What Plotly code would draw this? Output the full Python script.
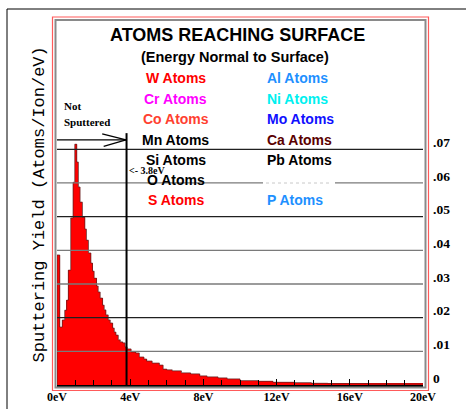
import numpy as np
import plotly.graph_objects as go

# ---------------- data ----------------
BIN_EDGES_EV = [0.0, 0.15, 0.29, 0.42, 0.53, 0.62, 0.75, 0.88, 0.97, 1.08,
                1.17, 1.26, 1.39, 1.52, 1.61, 1.72, 1.85, 1.94, 2.03, 2.16,
                2.25, 2.36, 2.49, 2.58, 2.67, 2.80, 2.91, 3.04, 3.13, 3.22,
                3.35, 3.46, 3.59, 3.72, 3.83, 4.05, 4.3, 4.5, 4.75, 4.9,
                5.2, 5.6, 5.8, 6.0, 6.3, 6.8, 7.3, 7.8, 8.2, 8.8,
                9.3, 10.0, 11.0, 11.8, 13.0, 13.9, 14.8, 16.0, 17.0, 20.0]
YIELD = [0.0386, 0.0172, 0.0193, 0.0222, 0.0252, 0.0341, 0.0496, 0.0602, 0.0715,
         0.0662, 0.0588, 0.0543, 0.0498, 0.0463, 0.0430, 0.0392, 0.0362, 0.0338,
         0.0317, 0.0294, 0.0276, 0.0258, 0.0237, 0.0223, 0.0208, 0.0193, 0.0184,
         0.0169, 0.0157, 0.0148, 0.0134, 0.0128, 0.0125, 0.0113, 0.0107, 0.0098,
         0.0095, 0.0083, 0.0077, 0.0071, 0.0065, 0.0059, 0.0047, 0.0045, 0.0042,
         0.0036, 0.0033, 0.0027, 0.0024, 0.0021, 0.0018, 0.0013, 0.0011, 0.0008,
         0.0007, 0.0005, 0.0004, 0.0004, 0.0003]
CUTOFF_EV = 3.8

X_TICKS = [0, 4, 8, 12, 16, 20]
X_TICK_TEXT = ["0eV", "4eV", "8eV", "12eV", "16eV", "20eV"]
Y_TICKS = [0, 0.01, 0.02, 0.03, 0.04, 0.05, 0.06, 0.07]
Y_TICK_TEXT = ["0", ".01", ".02", ".03", ".04", ".05", ".06", ".07"]

LEGEND_LEFT = ["W Atoms", "Cr Atoms", "Co Atoms", "Mn Atoms", "Si Atoms", "O Atoms", "S Atoms"]
LEGEND_LEFT_COLORS = ["#FF0000", "#FF00FF", "#FF4030", "#000000", "#000000", "#000000", "#FF0000"]
LEGEND_RIGHT = ["Al Atoms", "Ni Atoms", "Mo Atoms", "Ca Atoms", "Pb Atoms", None, "P Atoms"]
LEGEND_RIGHT_COLORS = ["#1E90FF", "#00F0F0", "#1010FF", "#5A0000", "#000000", None, "#1E90FF"]

# ---------------- layout geometry (pixels) ----------------
W, H = 466, 409
ML, MR, MT, MB = 57, 43, 20, 24
PW, PH = W - ML - MR, H - MT - MB
Y_TOP = 0.1084


def px(xp):
    return (xp - ML) / PW


def py(yp):
    return (H - MB - yp) / PH


edges = np.array(BIN_EDGES_EV)
widths = np.diff(edges)
vals = np.array(YIELD)

fig = go.Figure()
fig.add_trace(go.Bar(x=edges[:-1], y=vals, width=widths, offset=0,
                     marker=dict(color="#FF0000", line=dict(width=0)),
                     showlegend=False, hoverinfo="skip"))
fig.add_trace(go.Scatter(x=np.concatenate([[edges[0]], edges]),
                         y=np.concatenate([[0], vals, [vals[-1]]]),
                         mode="lines", line=dict(shape="hv", color="#6a2020", width=0.8),
                         showlegend=False, hoverinfo="skip"))

shapes = []
# outer black border (only top/left visible)
shapes.append(dict(type="rect", xref="paper", yref="paper",
                   x0=px(7), x1=px(480), y0=py(9), y1=py(420),
                   line=dict(color="black", width=1)))
# red and gray frames
shapes.append(dict(type="rect", xref="paper", yref="paper",
                   x0=px(52.5), x1=px(428.5), y0=py(17), y1=py(390.5),
                   line=dict(color="#FF5A5A", width=1.2)))
shapes.append(dict(type="rect", xref="paper", yref="paper",
                   x0=px(55.5), x1=px(425.5), y0=py(20), y1=py(387.5),
                   line=dict(color="#8a8a8a", width=2)))
# horizontal grid lines drawn above the histogram
grid_colors = ["#202020", "#7a7a7a", "#202020", "#7a7a7a", "#7a7a7a", "#202020", "#7a7a7a", "#202020"]
for v, c in zip(Y_TICKS[1:], grid_colors[1:]):
    shapes.append(dict(type="line", xref="x", yref="y", x0=X_TICKS[0], x1=X_TICKS[-1],
                       y0=v, y1=v, line=dict(color=c, width=1.3), layer="above"))
# gap in the .06 gridline behind the hidden label
shapes.append(dict(type="rect", xref="paper", yref="paper", x0=px(263), x1=px(335),
                   y0=py(185), y1=py(181), fillcolor="white", line=dict(width=0), layer="above"))
shapes.append(dict(type="line", xref="paper", yref="paper", x0=px(266), x1=px(332),
                   y0=py(183), y1=py(183), line=dict(color="#c8c8c8", width=1, dash="dot"), layer="above"))
# cutoff vertical line
y_cut_top = 0.0748
shapes.append(dict(type="line", xref="x", yref="y", x0=CUTOFF_EV, x1=CUTOFF_EV,
                   y0=0, y1=y_cut_top, line=dict(color="black", width=2), layer="above"))
# "Not Sputtered" arrow
y_arrow = 0.0728
shapes.append(dict(type="line", xref="x", yref="y", x0=0, x1=CUTOFF_EV - 0.03,
                   y0=y_arrow, y1=y_arrow, line=dict(color="black", width=1.3), layer="above"))
shapes.append(dict(type="line", xref="x", yref="y", x0=CUTOFF_EV - 1.33, x1=CUTOFF_EV - 0.03,
                   y0=y_arrow + 0.0018, y1=y_arrow, line=dict(color="black", width=1.3), layer="above"))
shapes.append(dict(type="line", xref="x", yref="y", x0=CUTOFF_EV - 1.25, x1=CUTOFF_EV - 0.03,
                   y0=y_arrow - 0.0019, y1=y_arrow, line=dict(color="black", width=1.3), layer="above"))

sans = "Liberation Sans, Arial, sans-serif"
serif = "Liberation Serif, Times New Roman, serif"
mono = "Liberation Mono, Courier New, monospace"

ann = []


def text(t, x, y, size, color="black", family=sans, bold=True, xanchor="center", angle=0):
    ann.append(dict(text=t, xref="paper", yref="paper", x=px(x), y=py(y),
                    xanchor=xanchor, yanchor="middle", showarrow=False, textangle=angle,
                    font=dict(family=family, size=size, color=color,
                              weight="bold" if bold else "normal")))


text("ATOMS REACHING SURFACE", 237.5, 34.5, 18)
text("(Energy Normal to Surface)", 234.5, 57.5, 14.5)
row_y = [78.5, 99, 119, 139.5, 159.5, 179.5, 200]
for lab, col, yy in zip(LEGEND_LEFT, LEGEND_LEFT_COLORS, row_y):
    text(lab, 175.5, yy, 14, col)
for lab, col, yy in zip(LEGEND_RIGHT, LEGEND_RIGHT_COLORS, row_y):
    if lab:
        text(lab, 265, yy, 14, col, xanchor="left")
text("Not", 61.5, 106, 11, family=serif, xanchor="left")
text("Sputtered", 61.5, 122, 11, family=serif, xanchor="left")
text("&lt;- " + f"{CUTOFF_EV}eV", 127, 170.5, 10, family=serif, xanchor="left")
text("Sputtering Yield (Atoms/Ion/eV)", 38.5, 205, 17, family=mono, bold=False, angle=-90)

fig.update_layout(
    width=W, height=H, margin=dict(l=ML, r=MR, t=MT, b=MB, autoexpand=False),
    paper_bgcolor="white", plot_bgcolor="white",
    shapes=shapes, annotations=ann, showlegend=False, bargap=0,
    xaxis=dict(range=[X_TICKS[0], X_TICKS[-1]], tickvals=X_TICKS, ticktext=X_TICK_TEXT,
               showgrid=False, zeroline=False, showline=True, linecolor="black", linewidth=1.5,
               ticks="inside", ticklen=6, tickcolor="black", tickwidth=1,
               minor=dict(dtick=1, ticks="inside", ticklen=5, tickcolor="black", tickwidth=1),
               tickfont=dict(family=serif, size=12, color="black", weight="bold")),
    yaxis=dict(range=[0, Y_TOP], tickvals=Y_TICKS, ticktext=Y_TICK_TEXT, side="right",
               showgrid=False, zeroline=False, showline=False, ticks="",
               ticklabelstandoff=9, ticklabelshift=-7,
               tickfont=dict(family=serif, size=13.5, color="black", weight="bold")),
)

fig.write_html("out.html")
